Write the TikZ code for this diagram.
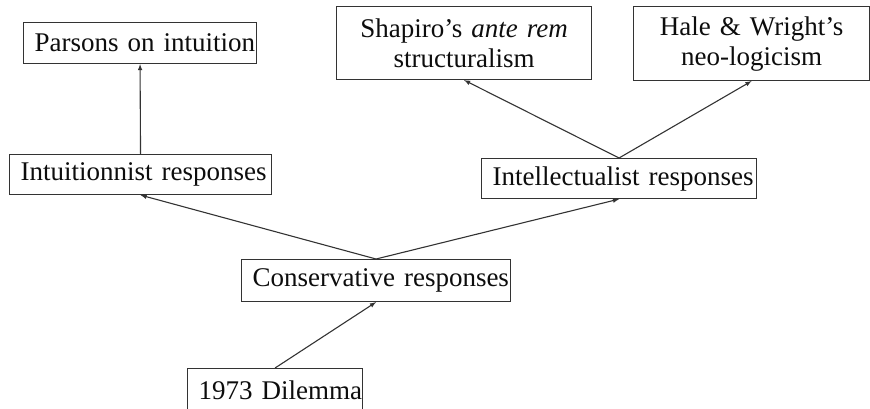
\documentclass[tikz,border=0pt]{standalone}
\usepackage{fontspec}
\setmainfont{Liberation Serif}
\usepackage{tikz}

\begin{document}
\begin{tikzpicture}[x=1pt,y=-1pt,
		box/.style={draw=black!80,line width=1.1pt,anchor=north west,inner xsep=11pt,inner ysep=0pt,
			font=\fontsize{27}{30}\selectfont,text=black!95},
		link/.style={-latex,draw=black!80,line width=1.1pt}]
		\useasboundingbox (0,0) rectangle (870,408);
		\node[box,text width=211pt,minimum height=41pt,align=left] (parsons) at (23,22) {\mbox{Parsons on intuition}};
		\node[box,text width=233pt,minimum height=73pt,align=center] (shapiro) at (336,6) {Shapiro's \textit{ante rem}\\structuralism};
		\node[box,text width=214pt,minimum height=74pt,align=center] (hale) at (633,6) {Hale \& Wright's\\neo-logicism};
		\node[box,text width=240pt,minimum height=40pt,align=left] (intuit) at (9,154) {\mbox{Intuitionnist responses}};
		\node[box,text width=253pt,minimum height=40pt,align=left] (intellect) at (481,158) {\mbox{Intellectualist responses}};
		\node[box,text width=247pt,minimum height=42pt,align=left] (conserv) at (241,259) {\mbox{Conservative responses}};
		\node[box,text width=153pt,minimum height=44pt,align=left] (dilemma) at (187,368) {\mbox{1973 Dilemma}};
		
		\draw[link] (intuit.north) -- (parsons.south);
		\draw[link] (conserv.north) -- (intuit.south);
		\draw[link] (conserv.north) -- (intellect.south);
		\draw[link] (intellect.north) -- (shapiro.south);
		\draw[link] (intellect.north) -- (hale.south);
		\draw[link] (dilemma.north) -- (conserv.south);
	\end{tikzpicture}
\end{document}
